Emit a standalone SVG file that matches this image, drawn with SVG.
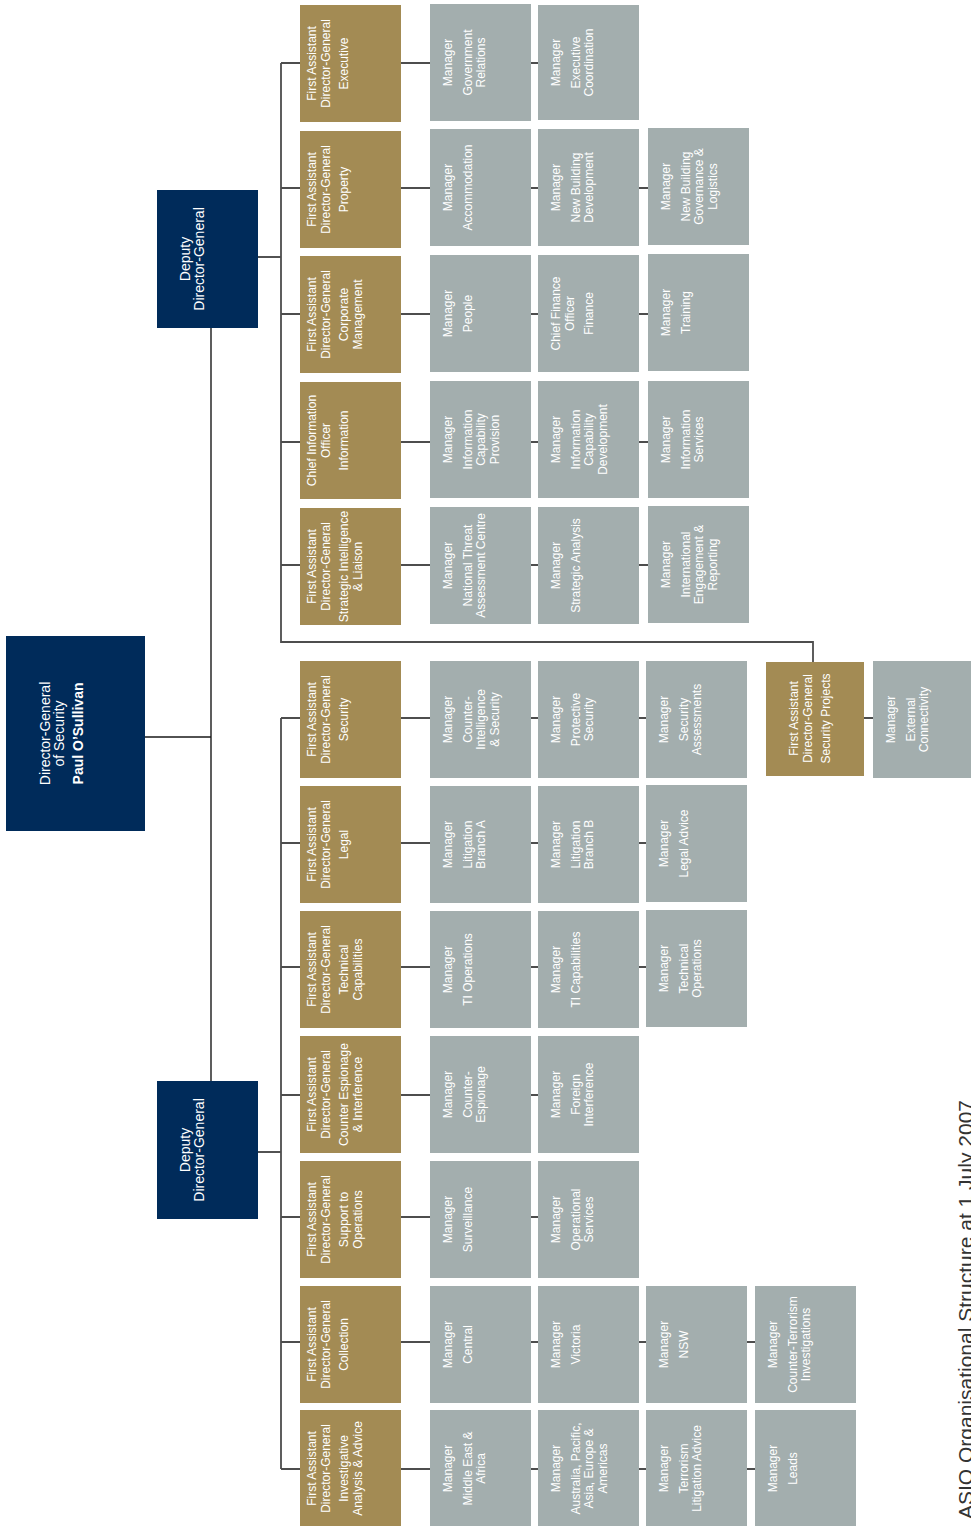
<svg xmlns="http://www.w3.org/2000/svg" width="971" height="1526" viewBox="0 0 971 1526">
<style>
.navy{fill:#002b5a}
.gold{fill:#a38b54}
.grey{fill:#a3aeae}
text{font-family:"Liberation Sans",Arial,sans-serif;fill:#ffffff;text-anchor:middle;font-size:12px}
.big{font-size:14px}
.b{font-weight:bold}
.trunk{fill:none;stroke:#1a1a1a;stroke-width:1.4}
.link{fill:none;stroke:#4d4d4d;stroke-width:1.8}
.cap{fill:#333333;font-size:21px;text-anchor:end}
</style>
<rect width="971" height="1526" fill="#ffffff"/>
<g id="connectors">
<path class="trunk" d="M145,737H211M211,328V1081M258,257H281M258,1152H281"/>
<path class="link" d="M281,63V642H813V662M281,718V1469"/>
<path class="link" d="M281,63H300M401,63H538M281,188H300M401,188H648M281,314H300M401,314H648M281,442H300M401,442H648M281,565H300M401,565H648"/>
<path class="link" d="M281,718H300M401,718H646M281,843H300M401,843H646M281,967H300M401,967H646M281,1095H300M401,1095H538M281,1217H300M401,1217H538M281,1342H300M401,1342H755M281,1469H300M401,1469H755M864,718H873"/>
</g>
<g id="dg"><rect class="navy" x="6" y="636" width="139" height="195"/>
<text class="big" transform="translate(0,733.5) rotate(-90)"><tspan x="0" y="49.5">Director-General</tspan><tspan x="0" y="63.5">of Security</tspan><tspan class="b" x="0" y="83">Paul O’Sullivan</tspan></text></g>
<g id="ddg1"><rect class="navy" x="157" y="190" width="101" height="138"/>
<text class="big" transform="translate(0,259) rotate(-90)"><tspan x="0" y="189.5">Deputy</tspan><tspan x="0" y="203.5">Director-General</tspan></text></g>
<g id="ddg2"><rect class="navy" x="157" y="1081" width="101" height="138"/>
<text class="big" transform="translate(0,1150) rotate(-90)"><tspan x="0" y="189.5">Deputy</tspan><tspan x="0" y="203.5">Director-General</tspan></text></g>

<!-- Row 1 -->
<g id="fadg-executive"><rect class="gold" x="300" y="5" width="101" height="117"/>
<text transform="translate(0,63.5) rotate(-90)"><tspan x="0" y="316">First Assistant</tspan><tspan x="0" y="329.5">Director-General</tspan><tspan x="0" y="348">Executive</tspan></text></g>
<g id="m-govrel"><rect class="grey" x="430" y="4" width="101" height="117"/>
<text transform="translate(0,62.5) rotate(-90)"><tspan x="0" y="452">Manager</tspan><tspan x="0" y="471.5">Government</tspan><tspan x="0" y="485">Relations</tspan></text></g>
<g id="m-execcoord"><rect class="grey" x="538" y="5" width="101" height="115"/>
<text transform="translate(0,62.5) rotate(-90)"><tspan x="0" y="560">Manager</tspan><tspan x="0" y="579.5">Executive</tspan><tspan x="0" y="593">Coordination</tspan></text></g>

<!-- Row 2 -->
<g id="fadg-property"><rect class="gold" x="300" y="131" width="101" height="117"/>
<text transform="translate(0,189.5) rotate(-90)"><tspan x="0" y="316">First Assistant</tspan><tspan x="0" y="329.5">Director-General</tspan><tspan x="0" y="348">Property</tspan></text></g>
<g id="m-accom"><rect class="grey" x="430" y="129" width="101" height="117"/>
<text transform="translate(0,187.5) rotate(-90)"><tspan x="0" y="452">Manager</tspan><tspan x="0" y="471.5">Accommodation</tspan></text></g>
<g id="m-nbdev"><rect class="grey" x="538" y="129" width="101" height="117"/>
<text transform="translate(0,187.5) rotate(-90)"><tspan x="0" y="560">Manager</tspan><tspan x="0" y="579.5">New Building</tspan><tspan x="0" y="593">Development</tspan></text></g>
<g id="m-nbgov"><rect class="grey" x="648" y="128" width="101" height="117"/>
<text transform="translate(0,186.5) rotate(-90)"><tspan x="0" y="670">Manager</tspan><tspan x="0" y="689.5">New Building</tspan><tspan x="0" y="703">Governance &amp;</tspan><tspan x="0" y="716.5">Logistics</tspan></text></g>

<!-- Row 3 -->
<g id="fadg-corporate"><rect class="gold" x="300" y="256" width="101" height="117"/>
<text transform="translate(0,314.5) rotate(-90)"><tspan x="0" y="316">First Assistant</tspan><tspan x="0" y="329.5">Director-General</tspan><tspan x="0" y="348">Corporate</tspan><tspan x="0" y="361.5">Management</tspan></text></g>
<g id="m-people"><rect class="grey" x="430" y="255" width="101" height="117"/>
<text transform="translate(0,313.5) rotate(-90)"><tspan x="0" y="452">Manager</tspan><tspan x="0" y="471.5">People</tspan></text></g>
<g id="cfo"><rect class="grey" x="538" y="255" width="101" height="117"/>
<text transform="translate(0,313.5) rotate(-90)"><tspan x="0" y="560">Chief Finance</tspan><tspan x="0" y="574">Officer</tspan><tspan x="0" y="593">Finance</tspan></text></g>
<g id="m-training"><rect class="grey" x="648" y="254" width="101" height="117"/>
<text transform="translate(0,312.5) rotate(-90)"><tspan x="0" y="670">Manager</tspan><tspan x="0" y="689.5">Training</tspan></text></g>

<!-- Row 4 -->
<g id="cio"><rect class="gold" x="300" y="382" width="101" height="117"/>
<text transform="translate(0,440.5) rotate(-90)"><tspan x="0" y="316">Chief Information</tspan><tspan x="0" y="329.5">Officer</tspan><tspan x="0" y="348">Information</tspan></text></g>
<g id="m-icprov"><rect class="grey" x="430" y="381" width="101" height="117"/>
<text transform="translate(0,439.5) rotate(-90)"><tspan x="0" y="452">Manager</tspan><tspan x="0" y="471.5">Information</tspan><tspan x="0" y="485">Capability</tspan><tspan x="0" y="498.5">Provision</tspan></text></g>
<g id="m-icdev"><rect class="grey" x="538" y="381" width="101" height="117"/>
<text transform="translate(0,439.5) rotate(-90)"><tspan x="0" y="560">Manager</tspan><tspan x="0" y="579.5">Information</tspan><tspan x="0" y="593">Capability</tspan><tspan x="0" y="606.5">Development</tspan></text></g>
<g id="m-infoserv"><rect class="grey" x="648" y="381" width="101" height="117"/>
<text transform="translate(0,439.5) rotate(-90)"><tspan x="0" y="670">Manager</tspan><tspan x="0" y="689.5">Information</tspan><tspan x="0" y="703">Services</tspan></text></g>

<!-- Row 5 -->
<g id="fadg-strategic"><rect class="gold" x="300" y="508" width="101" height="117"/>
<text transform="translate(0,566.5) rotate(-90)"><tspan x="0" y="316">First Assistant</tspan><tspan x="0" y="329.5">Director-General</tspan><tspan x="0" y="348">Strategic Intelligence</tspan><tspan x="0" y="361.5">&amp; Liaison</tspan></text></g>
<g id="m-ntac"><rect class="grey" x="430" y="507" width="101" height="117"/>
<text transform="translate(0,565.5) rotate(-90)"><tspan x="0" y="452">Manager</tspan><tspan x="0" y="471.5">National Threat</tspan><tspan x="0" y="485">Assessment Centre</tspan></text></g>
<g id="m-stratan"><rect class="grey" x="538" y="507" width="101" height="117"/>
<text transform="translate(0,565.5) rotate(-90)"><tspan x="0" y="560">Manager</tspan><tspan x="0" y="579.5">Strategic Analysis</tspan></text></g>
<g id="m-intleng"><rect class="grey" x="648" y="506" width="101" height="117"/>
<text transform="translate(0,564.5) rotate(-90)"><tspan x="0" y="670">Manager</tspan><tspan x="0" y="689.5">International</tspan><tspan x="0" y="703">Engagement &amp;</tspan><tspan x="0" y="716.5">Reporting</tspan></text></g>

<!-- Security projects -->
<g id="fadg-secproj"><rect class="gold" x="766" y="662" width="98" height="114"/>
<text transform="translate(0,718.5) rotate(-90)"><tspan x="0" y="798">First Assistant</tspan><tspan x="0" y="811.5">Director-General</tspan><tspan x="0" y="830">Security Projects</tspan></text></g>
<g id="m-extconn"><rect class="grey" x="873" y="661" width="98" height="117"/>
<text transform="translate(0,719.5) rotate(-90)"><tspan x="0" y="895">Manager</tspan><tspan x="0" y="914.5">External</tspan><tspan x="0" y="928">Connectivity</tspan></text></g>

<!-- Row 6 -->
<g id="fadg-security"><rect class="gold" x="300" y="661" width="101" height="117"/>
<text transform="translate(0,719.5) rotate(-90)"><tspan x="0" y="316">First Assistant</tspan><tspan x="0" y="329.5">Director-General</tspan><tspan x="0" y="348">Security</tspan></text></g>
<g id="m-cis"><rect class="grey" x="430" y="661" width="101" height="117"/>
<text transform="translate(0,719.5) rotate(-90)"><tspan x="0" y="452">Manager</tspan><tspan x="0" y="471.5">Counter-</tspan><tspan x="0" y="485">Intelligence</tspan><tspan x="0" y="498.5">&amp; Security</tspan></text></g>
<g id="m-protsec"><rect class="grey" x="538" y="661" width="101" height="117"/>
<text transform="translate(0,719.5) rotate(-90)"><tspan x="0" y="560">Manager</tspan><tspan x="0" y="579.5">Protective</tspan><tspan x="0" y="593">Security</tspan></text></g>
<g id="m-secass"><rect class="grey" x="646" y="661" width="101" height="117"/>
<text transform="translate(0,719.5) rotate(-90)"><tspan x="0" y="668">Manager</tspan><tspan x="0" y="687.5">Security</tspan><tspan x="0" y="701">Assessments</tspan></text></g>

<!-- Row 7 -->
<g id="fadg-legal"><rect class="gold" x="300" y="786" width="101" height="117"/>
<text transform="translate(0,844.5) rotate(-90)"><tspan x="0" y="316">First Assistant</tspan><tspan x="0" y="329.5">Director-General</tspan><tspan x="0" y="348">Legal</tspan></text></g>
<g id="m-litA"><rect class="grey" x="430" y="786" width="101" height="117"/>
<text transform="translate(0,844.5) rotate(-90)"><tspan x="0" y="452">Manager</tspan><tspan x="0" y="471.5">Litigation</tspan><tspan x="0" y="485">Branch A</tspan></text></g>
<g id="m-litB"><rect class="grey" x="538" y="786" width="101" height="117"/>
<text transform="translate(0,844.5) rotate(-90)"><tspan x="0" y="560">Manager</tspan><tspan x="0" y="579.5">Litigation</tspan><tspan x="0" y="593">Branch B</tspan></text></g>
<g id="m-legadv"><rect class="grey" x="646" y="785" width="101" height="117"/>
<text transform="translate(0,843.5) rotate(-90)"><tspan x="0" y="668">Manager</tspan><tspan x="0" y="687.5">Legal Advice</tspan></text></g>

<!-- Row 8 -->
<g id="fadg-techcap"><rect class="gold" x="300" y="911" width="101" height="117"/>
<text transform="translate(0,969.5) rotate(-90)"><tspan x="0" y="316">First Assistant</tspan><tspan x="0" y="329.5">Director-General</tspan><tspan x="0" y="348">Technical</tspan><tspan x="0" y="361.5">Capabilities</tspan></text></g>
<g id="m-tiops"><rect class="grey" x="430" y="911" width="101" height="117"/>
<text transform="translate(0,969.5) rotate(-90)"><tspan x="0" y="452">Manager</tspan><tspan x="0" y="471.5">TI Operations</tspan></text></g>
<g id="m-ticap"><rect class="grey" x="538" y="911" width="101" height="117"/>
<text transform="translate(0,969.5) rotate(-90)"><tspan x="0" y="560">Manager</tspan><tspan x="0" y="579.5">TI Capabilities</tspan></text></g>
<g id="m-techops"><rect class="grey" x="646" y="910" width="101" height="117"/>
<text transform="translate(0,968.5) rotate(-90)"><tspan x="0" y="668">Manager</tspan><tspan x="0" y="687.5">Technical</tspan><tspan x="0" y="701">Operations</tspan></text></g>

<!-- Row 9 -->
<g id="fadg-ce"><rect class="gold" x="300" y="1036" width="101" height="117"/>
<text transform="translate(0,1094.5) rotate(-90)"><tspan x="0" y="316">First Assistant</tspan><tspan x="0" y="329.5">Director-General</tspan><tspan x="0" y="348">Counter Espionage</tspan><tspan x="0" y="361.5">&amp; Interference</tspan></text></g>
<g id="m-ce"><rect class="grey" x="430" y="1036" width="101" height="117"/>
<text transform="translate(0,1094.5) rotate(-90)"><tspan x="0" y="452">Manager</tspan><tspan x="0" y="471.5">Counter-</tspan><tspan x="0" y="485">Espionage</tspan></text></g>
<g id="m-fi"><rect class="grey" x="538" y="1036" width="101" height="117"/>
<text transform="translate(0,1094.5) rotate(-90)"><tspan x="0" y="560">Manager</tspan><tspan x="0" y="579.5">Foreign</tspan><tspan x="0" y="593">Interference</tspan></text></g>

<!-- Row 10 -->
<g id="fadg-sto"><rect class="gold" x="300" y="1161" width="101" height="117"/>
<text transform="translate(0,1219.5) rotate(-90)"><tspan x="0" y="316">First Assistant</tspan><tspan x="0" y="329.5">Director-General</tspan><tspan x="0" y="348">Support to</tspan><tspan x="0" y="361.5">Operations</tspan></text></g>
<g id="m-surv"><rect class="grey" x="430" y="1161" width="101" height="117"/>
<text transform="translate(0,1219.5) rotate(-90)"><tspan x="0" y="452">Manager</tspan><tspan x="0" y="471.5">Surveillance</tspan></text></g>
<g id="m-opserv"><rect class="grey" x="538" y="1161" width="101" height="117"/>
<text transform="translate(0,1219.5) rotate(-90)"><tspan x="0" y="560">Manager</tspan><tspan x="0" y="579.5">Operational</tspan><tspan x="0" y="593">Services</tspan></text></g>

<!-- Row 11 -->
<g id="fadg-coll"><rect class="gold" x="300" y="1286" width="101" height="117"/>
<text transform="translate(0,1344.5) rotate(-90)"><tspan x="0" y="316">First Assistant</tspan><tspan x="0" y="329.5">Director-General</tspan><tspan x="0" y="348">Collection</tspan></text></g>
<g id="m-central"><rect class="grey" x="430" y="1286" width="101" height="117"/>
<text transform="translate(0,1344.5) rotate(-90)"><tspan x="0" y="452">Manager</tspan><tspan x="0" y="471.5">Central</tspan></text></g>
<g id="m-vic"><rect class="grey" x="538" y="1286" width="101" height="117"/>
<text transform="translate(0,1344.5) rotate(-90)"><tspan x="0" y="560">Manager</tspan><tspan x="0" y="579.5">Victoria</tspan></text></g>
<g id="m-nsw"><rect class="grey" x="646" y="1286" width="101" height="117"/>
<text transform="translate(0,1344.5) rotate(-90)"><tspan x="0" y="668">Manager</tspan><tspan x="0" y="687.5">NSW</tspan></text></g>
<g id="m-cti"><rect class="grey" x="755" y="1286" width="101" height="117"/>
<text transform="translate(0,1344.5) rotate(-90)"><tspan x="0" y="777">Manager</tspan><tspan x="0" y="796.5">Counter-Terrorism</tspan><tspan x="0" y="810">Investigations</tspan></text></g>

<!-- Row 12 -->
<g id="fadg-iaa"><rect class="gold" x="300" y="1410" width="101" height="116"/>
<text transform="translate(0,1468.5) rotate(-90)"><tspan x="0" y="316">First Assistant</tspan><tspan x="0" y="329.5">Director-General</tspan><tspan x="0" y="348">Investigative</tspan><tspan x="0" y="361.5">Analysis &amp; Advice</tspan></text></g>
<g id="m-mea"><rect class="grey" x="430" y="1410" width="101" height="116"/>
<text transform="translate(0,1468.5) rotate(-90)"><tspan x="0" y="452">Manager</tspan><tspan x="0" y="471.5">Middle East &amp;</tspan><tspan x="0" y="485">Africa</tspan></text></g>
<g id="m-apea"><rect class="grey" x="538" y="1410" width="101" height="116"/>
<text transform="translate(0,1468.5) rotate(-90)"><tspan x="0" y="560">Manager</tspan><tspan x="0" y="579.5">Australia, Pacific,</tspan><tspan x="0" y="593">Asia, Europe &amp;</tspan><tspan x="0" y="606.5">Americas</tspan></text></g>
<g id="m-tla"><rect class="grey" x="646" y="1410" width="101" height="116"/>
<text transform="translate(0,1468.5) rotate(-90)"><tspan x="0" y="668">Manager</tspan><tspan x="0" y="687.5">Terrorism</tspan><tspan x="0" y="701">Litigation Advice</tspan></text></g>
<g id="m-leads"><rect class="grey" x="755" y="1410" width="101" height="116"/>
<text transform="translate(0,1468.5) rotate(-90)"><tspan x="0" y="777">Manager</tspan><tspan x="0" y="796.5">Leads</tspan></text></g>

<text class="cap" transform="translate(973,1100) rotate(-90)" x="0" y="0">ASIO Organisational Structure at 1 July 2007</text>
</svg>
